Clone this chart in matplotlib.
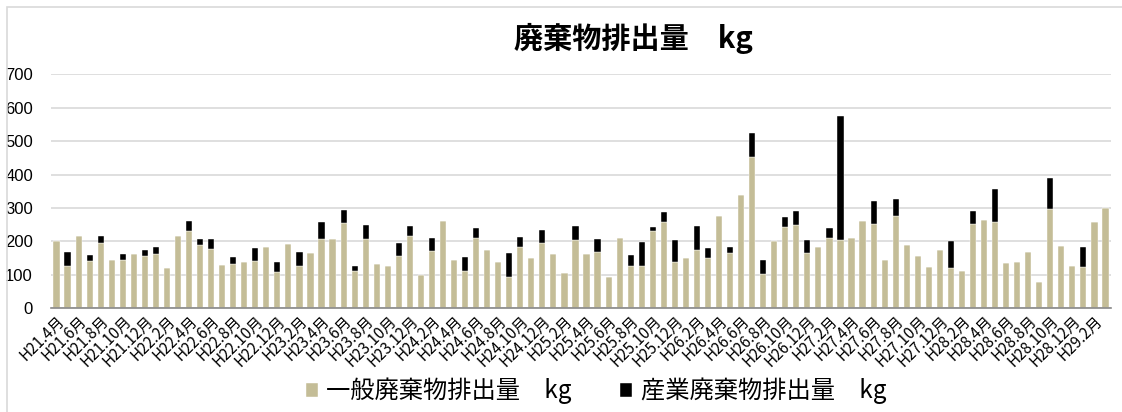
import matplotlib
matplotlib.use("Agg")
import matplotlib.pyplot as plt
import numpy as np
from matplotlib.patches import Rectangle

plt.rcParams['font.family'] = ['Noto Sans CJK JP', 'DejaVu Sans']

months = [
    "H21.4月", "H21.5月", "H21.6月", "H21.7月", "H21.8月", "H21.9月", "H21.10月", "H21.11月", "H21.12月", "H22.1月", "H22.2月", "H22.3月",
    "H22.4月", "H22.5月", "H22.6月", "H22.7月", "H22.8月", "H22.9月", "H22.10月", "H22.11月", "H22.12月", "H23.1月", "H23.2月", "H23.3月",
    "H23.4月", "H23.5月", "H23.6月", "H23.7月", "H23.8月", "H23.9月", "H23.10月", "H23.11月", "H23.12月", "H24.1月", "H24.2月", "H24.3月",
    "H24.4月", "H24.5月", "H24.6月", "H24.7月", "H24.8月", "H24.9月", "H24.10月", "H24.11月", "H24.12月", "H25.1月", "H25.2月", "H25.3月",
    "H25.4月", "H25.5月", "H25.6月", "H25.7月", "H25.8月", "H25.9月", "H25.10月", "H25.11月", "H25.12月", "H26.1月", "H26.2月", "H26.3月",
    "H26.4月", "H26.5月", "H26.6月", "H26.7月", "H26.8月", "H26.9月", "H26.10月", "H26.11月", "H26.12月", "H27.1月", "H27.2月", "H27.3月",
    "H27.4月", "H27.5月", "H27.6月", "H27.7月", "H27.8月", "H27.9月", "H27.10月", "H27.11月", "H27.12月", "H28.1月", "H28.2月", "H28.3月",
    "H28.4月", "H28.5月", "H28.6月", "H28.7月", "H28.8月", "H28.9月", "H28.10月", "H28.11月", "H28.12月", "H29.1月", "H29.2月", "H29.3月",
]

general_waste = [
    200, 128, 215, 141, 195, 144, 143, 162, 156, 163, 120, 216,
    232, 188, 177, 130, 133, 140, 141, 184, 109, 192, 128, 166,
    207, 207, 254, 113, 207, 133, 126, 155, 216, 101, 170, 261,
    144, 112, 210, 174, 139, 94, 182, 151, 195, 162, 105, 205,
    161, 167, 94, 210, 127, 127, 232, 258, 140, 151, 174, 149,
    276, 164, 340, 454, 104, 200, 244, 250, 165, 182, 210, 204,
    210, 262, 252, 144, 277, 190, 157, 123, 173, 122, 113, 251,
    264, 257, 135, 139, 169, 79, 298, 185, 126, 124, 259, 299,
]

industrial_waste = [
    0, 40, 0, 19, 20, 0, 19, 0, 18, 20, 0, 0,
    30, 20, 30, 0, 19, 0, 39, 0, 30, 0, 40, 0,
    50, 0, 40, 15, 41, 0, 0, 40, 31, 0, 40, 0,
    0, 41, 30, 0, 0, 71, 30, 0, 40, 0, 0, 42,
    0, 40, 0, 0, 31, 71, 10, 30, 64, 0, 71, 31,
    0, 20, 0, 70, 40, 0, 30, 40, 39, 0, 30, 371,
    0, 0, 70, 0, 49, 0, 0, 0, 0, 80, 0, 40,
    0, 101, 0, 0, 0, 0, 92, 0, 0, 60, 0, 0,
]

title = "廃棄物排出量　kg"
legend_labels = ["一般廃棄物排出量　kg", "産業廃棄物排出量　kg"]
yticks = [0, 100, 200, 300, 400, 500, 600, 700]

W, H = 1122, 412
fig = plt.figure(figsize=(W / 100, H / 100), dpi=100)
ax = fig.add_axes([51 / W, 1 - 308.3 / H, (1111 - 51) / W, (308.3 - 74.3) / H])

tan = "#C4BD97"
x = np.arange(len(months))
ax.bar(x, general_waste, width=0.56, color=tan, edgecolor="white", linewidth=0.3, zorder=3,
       label=legend_labels[0])
ax.bar(x, industrial_waste, width=0.56, bottom=general_waste, color="#000000",
       edgecolor="white", linewidth=0.3, zorder=3, label=legend_labels[1])

ax.set_xlim(-0.5, len(months) - 0.5)
ax.set_ylim(0, 700)
ax.set_yticks(yticks)
ax.set_yticklabels([str(v) for v in yticks], fontsize=12, family=['Liberation Sans', 'DejaVu Sans'])
ax.yaxis.grid(True, color="#D9D9D9", linewidth=1.2, zorder=0)
ax.set_axisbelow(True)
ax.tick_params(axis='y', length=0, pad=13)
ax.tick_params(axis='x', length=0, pad=3)
ax.set_xticks(x[::2])
ax.set_xticklabels(months[::2], rotation=45, ha='right', va='top', rotation_mode='anchor', fontsize=11)
for s in ['left', 'right', 'top']:
    ax.spines[s].set_visible(False)
ax.spines['bottom'].set_color('#888888')
ax.spines['bottom'].set_linewidth(1.2)
ax.spines['bottom'].set_zorder(4)

fig.text(633 / W, 1 - 38 / H, title, ha='center', va='center', fontsize=21, fontweight='bold')

leg = fig.legend(loc='center', bbox_to_anchor=(596 / W, 1 - 391 / H), ncol=2, frameon=False,
                 fontsize=17.5, handlelength=0.5, handleheight=0.5, handletextpad=0.35,
                 columnspacing=2.0)

# chart frame (partially outside the image)
fig.add_artist(Rectangle((6.5 / W, -0.1), 1.2, (1 - 7 / H) + 0.1, transform=fig.transFigure,
                         fill=False, edgecolor="#D9D9D9", linewidth=1.2))

fig.savefig("out.png", dpi=100)
